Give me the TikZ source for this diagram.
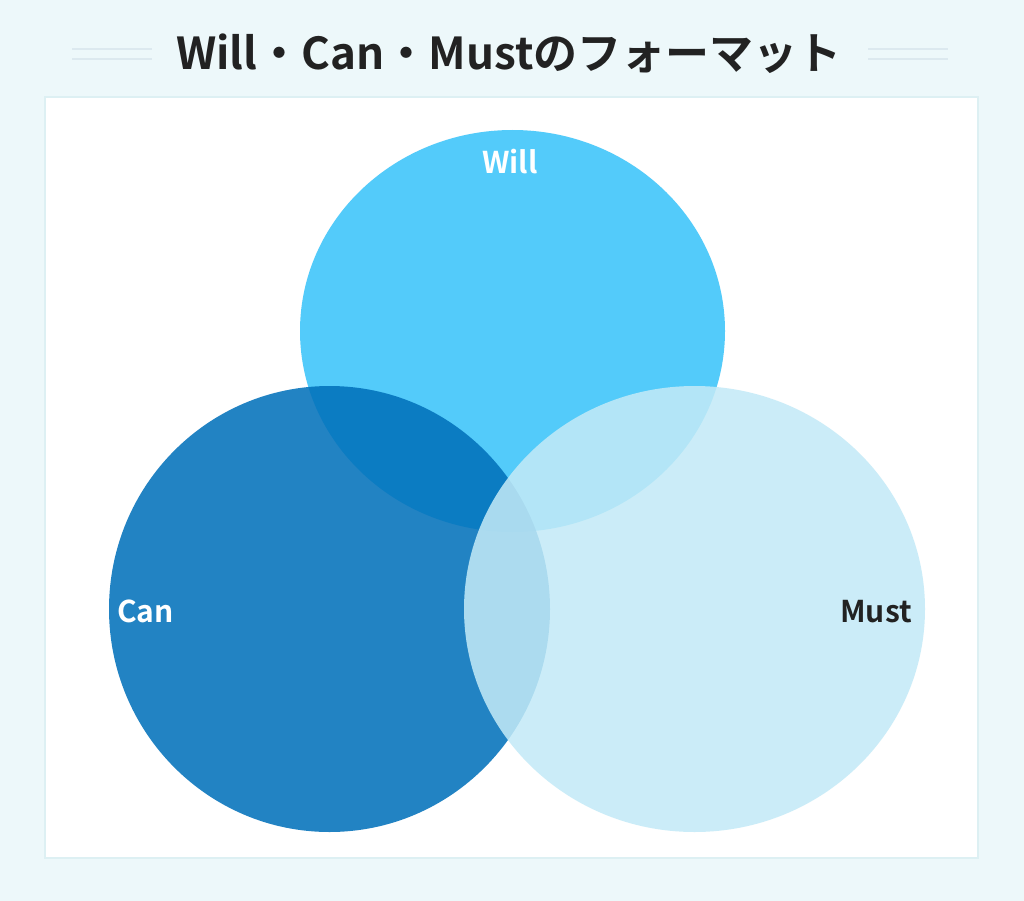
\documentclass[tikz,border=0pt]{standalone}
\usepackage{fontspec}
\setmainfont{Noto Sans CJK JP}[BoldFont={Noto Sans CJK JP Bold}]
\definecolor{bgc}{HTML}{EDF8FA}
\definecolor{boxline}{HTML}{DDF0F3}
\definecolor{deco}{HTML}{DCE9EF}
\definecolor{willc}{HTML}{53CBFA}
\definecolor{canc}{HTML}{0170BA}
\definecolor{mustc}{HTML}{C3EAF7}
\definecolor{titlec}{HTML}{222222}
\tikzset{
  decoline/.style={draw=deco, line width=2pt},
  lbl/.style={inner sep=0pt, font=\fontsize{30}{30}\selectfont\bfseries},
}
\begin{document}
\begin{tikzpicture}[x=1pt,y=-1pt]
\fill[bgc] (0,0) rectangle (1024,901);
\useasboundingbox (0,0) rectangle (1024,901);
% title
\node[inner sep=0pt, anchor=base, text=titlec, font=\fontsize{44}{44}\selectfont\bfseries] (title) at (509,70) {Will・Can・Mustのフォーマット};
\coordinate (l1a) at (72,49); \coordinate (l1b) at (152,49);
\coordinate (l2a) at (72,59); \coordinate (l2b) at (152,59);
\coordinate (r1a) at (868,49); \coordinate (r1b) at (948,49);
\coordinate (r2a) at (868,59); \coordinate (r2b) at (948,59);
\draw[decoline] (l1a) -- (l1b);
\draw[decoline] (l2a) -- (l2b);
\draw[decoline] (r1a) -- (r1b);
\draw[decoline] (r2a) -- (r2b);
% white panel
\draw[draw=boxline, line width=2pt, fill=white] (45,97) rectangle (978,858);
% circles
\fill[willc] (512.5,331) ellipse [x radius=212.5pt, y radius=201pt];
\fill[canc, fill opacity=0.865] (329.5,609) ellipse [x radius=220.5pt, y radius=223pt];
\fill[mustc, fill opacity=0.86] (694.5,609) ellipse [x radius=230.5pt, y radius=223pt];
% labels
\node[lbl, text=white, anchor=base] (will) at (510,174) {Will};
\node[lbl, text=white, anchor=base west] (can) at (117,622) {Can};
\node[lbl, text=titlec, anchor=base east] (must) at (912,622) {Must};
\end{tikzpicture}
\end{document}
